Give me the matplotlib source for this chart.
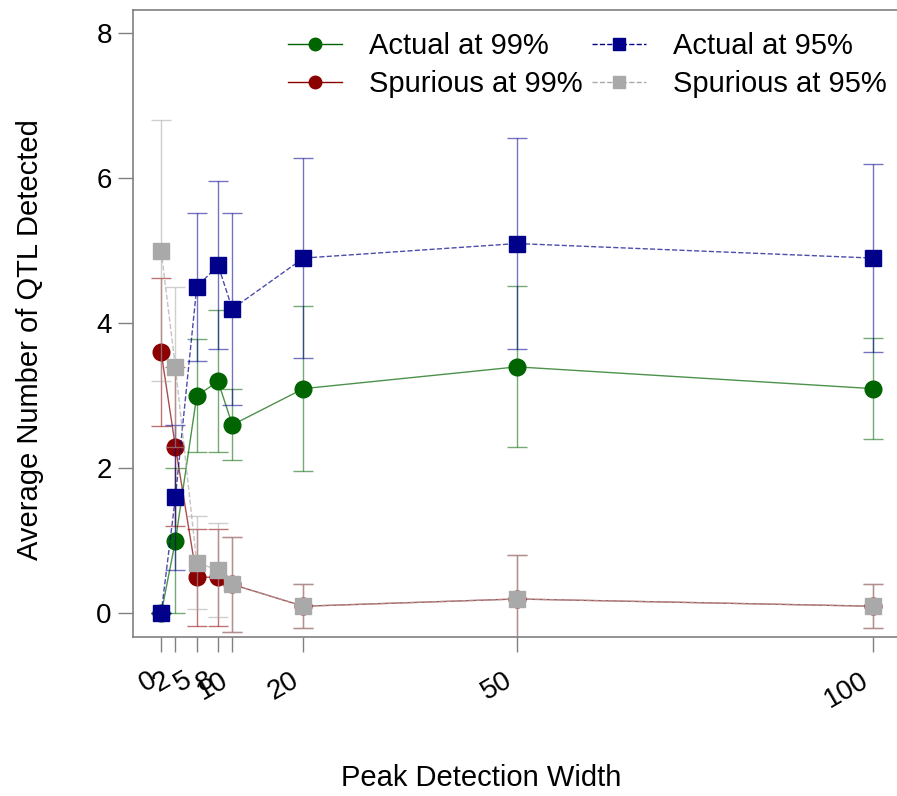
import numpy as np
import matplotlib
matplotlib.use('Agg')
import matplotlib.pyplot as plt

plt.rcParams['font.family'] = ['Liberation Sans', 'DejaVu Sans']

# peak detection width
widths = [0, 2, 5, 8, 10, 20, 50, 100]

# means and error bars (+/-)
actual99 = [0.0, 1.0, 3.0, 3.2, 2.6, 3.1, 3.4, 3.1]
actual99_err = [0.0, 1.0, 0.78, 0.98, 0.49, 1.14, 1.11, 0.7]
spur99 = [3.6, 2.3, 0.5, 0.5, 0.4, 0.1, 0.2, 0.1]
spur99_err = [1.02, 1.1, 0.67, 0.67, 0.66, 0.3, 0.6, 0.3]
actual95 = [0.0, 1.6, 4.5, 4.8, 4.2, 4.9, 5.1, 4.9]
actual95_err = [0.0, 1.0, 1.02, 1.16, 1.32, 1.38, 1.45, 1.3]
spur95 = [5.0, 3.4, 0.7, 0.6, 0.4, 0.1, 0.2, 0.1]
spur95_err = [1.8, 1.1, 0.64, 0.65, 0.66, 0.3, 0.6, 0.3]

fig = plt.figure(figsize=(8.97, 7.96), dpi=100)
ax = fig.add_axes([132.7 / 897, 159.3 / 796, (901.2 - 132.7) / 897, (786 - 159.3) / 796])

series = [
    (actual99, actual99_err, '#006400', 'o', '-', 12, 'Actual at 99%'),
    (spur99, spur99_err, '#8B0000', 'o', '-', 12, 'Spurious at 99%'),
    (actual95, actual95_err, '#00008B', 's', '--', 11, 'Actual at 95%'),
    (spur95, spur95_err, '#A9A9A9', 's', '--', 11, 'Spurious at 95%'),
]

handles = {}
for vals, err, col, mk, ls, ms, lab in series:
    ax.errorbar(widths, vals, yerr=err, fmt='none', ecolor=col, alpha=0.55,
                elinewidth=1.0, capsize=7.5, capthick=1.0)
    ax.plot(widths, vals, color=col, ls=ls, lw=1.0, alpha=0.7)
    ax.plot(widths, vals, color=col, ls='none', marker=mk, ms=ms)
    h, = ax.plot([], [], color=col, ls=ls, lw=1.0, marker=mk, ms=9)
    handles[lab] = h

order = ['Actual at 99%', 'Spurious at 99%', 'Actual at 95%', 'Spurious at 95%']
fig.legend([handles[k] for k in order], order, ncol=2, frameon=False,
           loc='upper left', bbox_to_anchor=(288 / 897, 1 - 32 / 796),
           fontsize=21, handlelength=1.85, handletextpad=0.92,
           columnspacing=0.34, labelspacing=0.36, borderpad=0, borderaxespad=0)

ax.set_xlim(-4, 104)
ax.set_ylim(-0.32, 8.32)
ax.set_xticks(widths)
ax.set_xticklabels([str(w) for w in widths], rotation=30, ha='right')
ax.set_yticks([0, 2, 4, 6, 8])
ax.tick_params(axis='both', labelsize=20, color='#808080', length=11, width=1)
ax.tick_params(axis='x', pad=11)
ax.tick_params(axis='y', pad=4)
for s in ax.spines.values():
    s.set_color('#808080')
    s.set_linewidth(1.2)

fig.text(481 / 897, 1 - 778 / 796, 'Peak Detection Width', fontsize=21,
         ha='center', va='center')
fig.text(30 / 897, 1 - 340 / 796, 'Average Number of QTL Detected', fontsize=21,
         ha='center', va='center', rotation=90)

fig.savefig('out.png', dpi=100)
